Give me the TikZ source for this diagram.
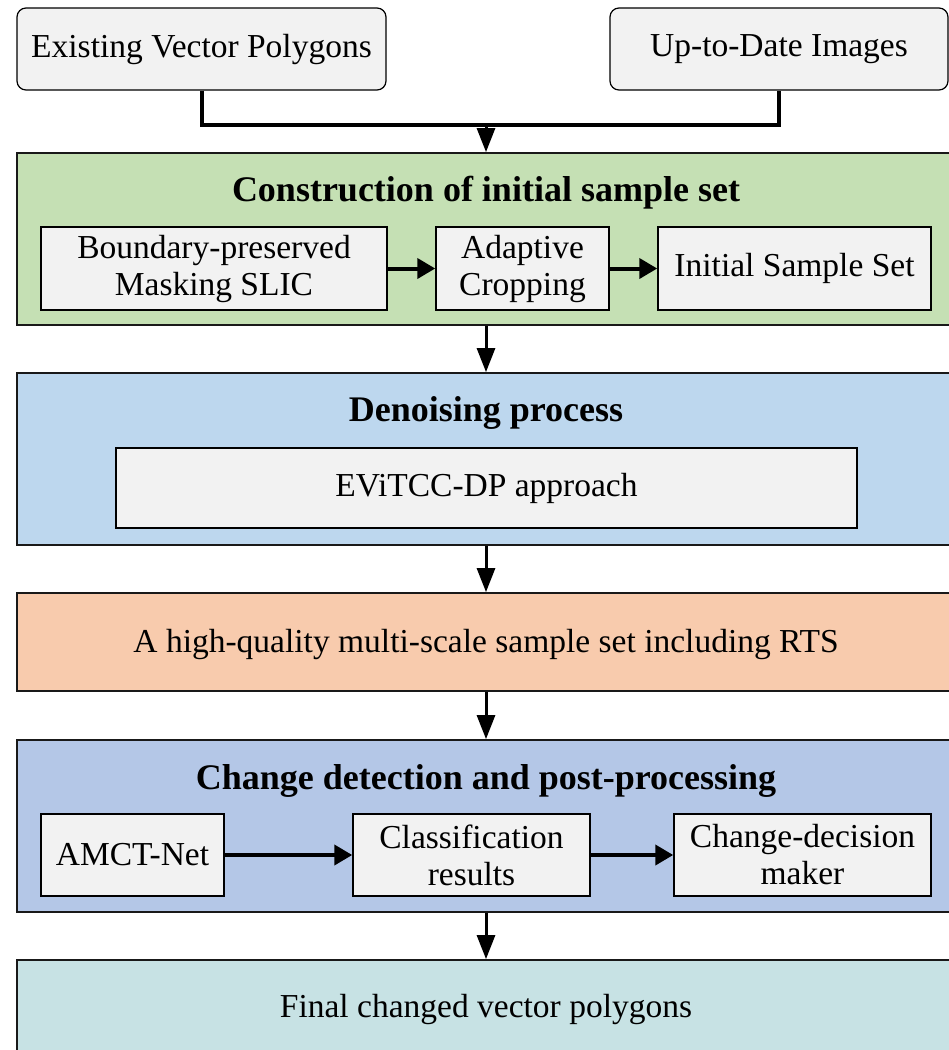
\documentclass[tikz,border=0pt]{standalone}
\usepackage{fontspec}
\setmainfont{Liberation Serif}
\usetikzlibrary{arrows.meta,positioning}
\definecolor{gbox}{HTML}{F2F2F2}
\definecolor{cgreen}{HTML}{C5E0B4}
\definecolor{cblue}{HTML}{BDD7EE}
\definecolor{corange}{HTML}{F8CBAD}
\definecolor{cpurple}{HTML}{B4C7E7}
\definecolor{cteal}{HTML}{C7E2E4}
\tikzset{
  txt/.style={font=\fontsize{33.5}{37}\selectfont, align=center},
  ttl/.style={font=\fontsize{36}{40}\selectfont\bfseries, align=center},
  topbox/.style={txt, draw=black, line width=1.2pt, fill=gbox, rounded corners=9pt, inner sep=0pt},
  inbox/.style={txt, draw=black, line width=1.5pt, fill=gbox, inner sep=0pt},
  stage/.style={draw=black!90, line width=1.8pt, inner sep=0pt},
  conn/.style={line width=3pt, -{Triangle[width=18pt,length=24pt]}},
  merge/.style={line width=4pt},
  harrow/.style={line width=4pt, -{Triangle[width=20pt,length=18pt]}},
}
\begin{document}
\begin{tikzpicture}[x=1pt,y=-1pt]
\useasboundingbox (0,0) rectangle (949,1050);
\clip (0,0) rectangle (949,1050);
% top boxes
\node[topbox, minimum width=369pt, minimum height=82pt] (evp) at (201.5,49) {Existing Vector Polygons};
\node[topbox, minimum width=338pt, minimum height=82pt] (utd) at (779,49) {Up-to-Date Images};
% stage boxes
\node[stage, fill=cgreen, minimum width=938pt, minimum height=172pt] (s1) at (486,239) {};
\node[stage, fill=cblue, minimum width=938pt, minimum height=172pt] (s2) at (486,459) {};
\node[stage, fill=corange, minimum width=938pt, minimum height=98pt] (s3) at (486,642) {};
\node[stage, fill=cpurple, minimum width=938pt, minimum height=172pt] (s4) at (486,826) {};
\node[stage, fill=cteal, minimum width=938pt, minimum height=140pt] (s5) at (486,1030) {};
% titles
\node[ttl] (t1) at (486,193) {Construction of initial sample set};
\node[ttl] (t2) at (486,413) {Denoising process};
\node[ttl] (t4) at (486,781) {Change detection and post-processing};
% inner boxes
\node[inbox, minimum width=346pt, minimum height=83pt] (bps) at (214,268.5) {Boundary-preserved\\Masking SLIC};
\node[inbox, minimum width=173pt, minimum height=83pt] (ac) at (522.5,268.5) {Adaptive\\Cropping};
\node[inbox, minimum width=273pt, minimum height=83pt] (iss) at (794.5,268.5) {Initial Sample Set};
\node[inbox, minimum width=741pt, minimum height=80pt] (ev) at (486.5,488) {EViTCC-DP approach};
\node[txt] (hq) at (486,644) {A high-quality multi-scale sample set including RTS};
\node[inbox, minimum width=183pt, minimum height=82pt] (amct) at (132.5,855) {AMCT-Net};
\node[inbox, minimum width=237pt, minimum height=82pt] (cls) at (471.5,855) {Classification\\results};
\node[inbox, minimum width=257pt, minimum height=82pt] (cdm) at (802.5,855) {Change-decision\\maker};
\node[txt] (fin) at (486,1009) {Final changed vector polygons};
% connectors
\coordinate (m) at (486,125);
\draw[merge] (evp.south) |- (m) -| (utd.south);
\draw[conn] (m) -- (s1.north);
\draw[conn] (s1.south) -- (s2.north);
\draw[conn] (s2.south) -- (s3.north);
\draw[conn] (s3.south) -- (s4.north);
\draw[conn] (s4.south) -- (s5.north);
\draw[harrow] (bps) -- (ac);
\draw[harrow] (ac) -- (iss);
\draw[harrow] (amct) -- (cls);
\draw[harrow] (cls) -- (cdm);
\end{tikzpicture}
\end{document}
